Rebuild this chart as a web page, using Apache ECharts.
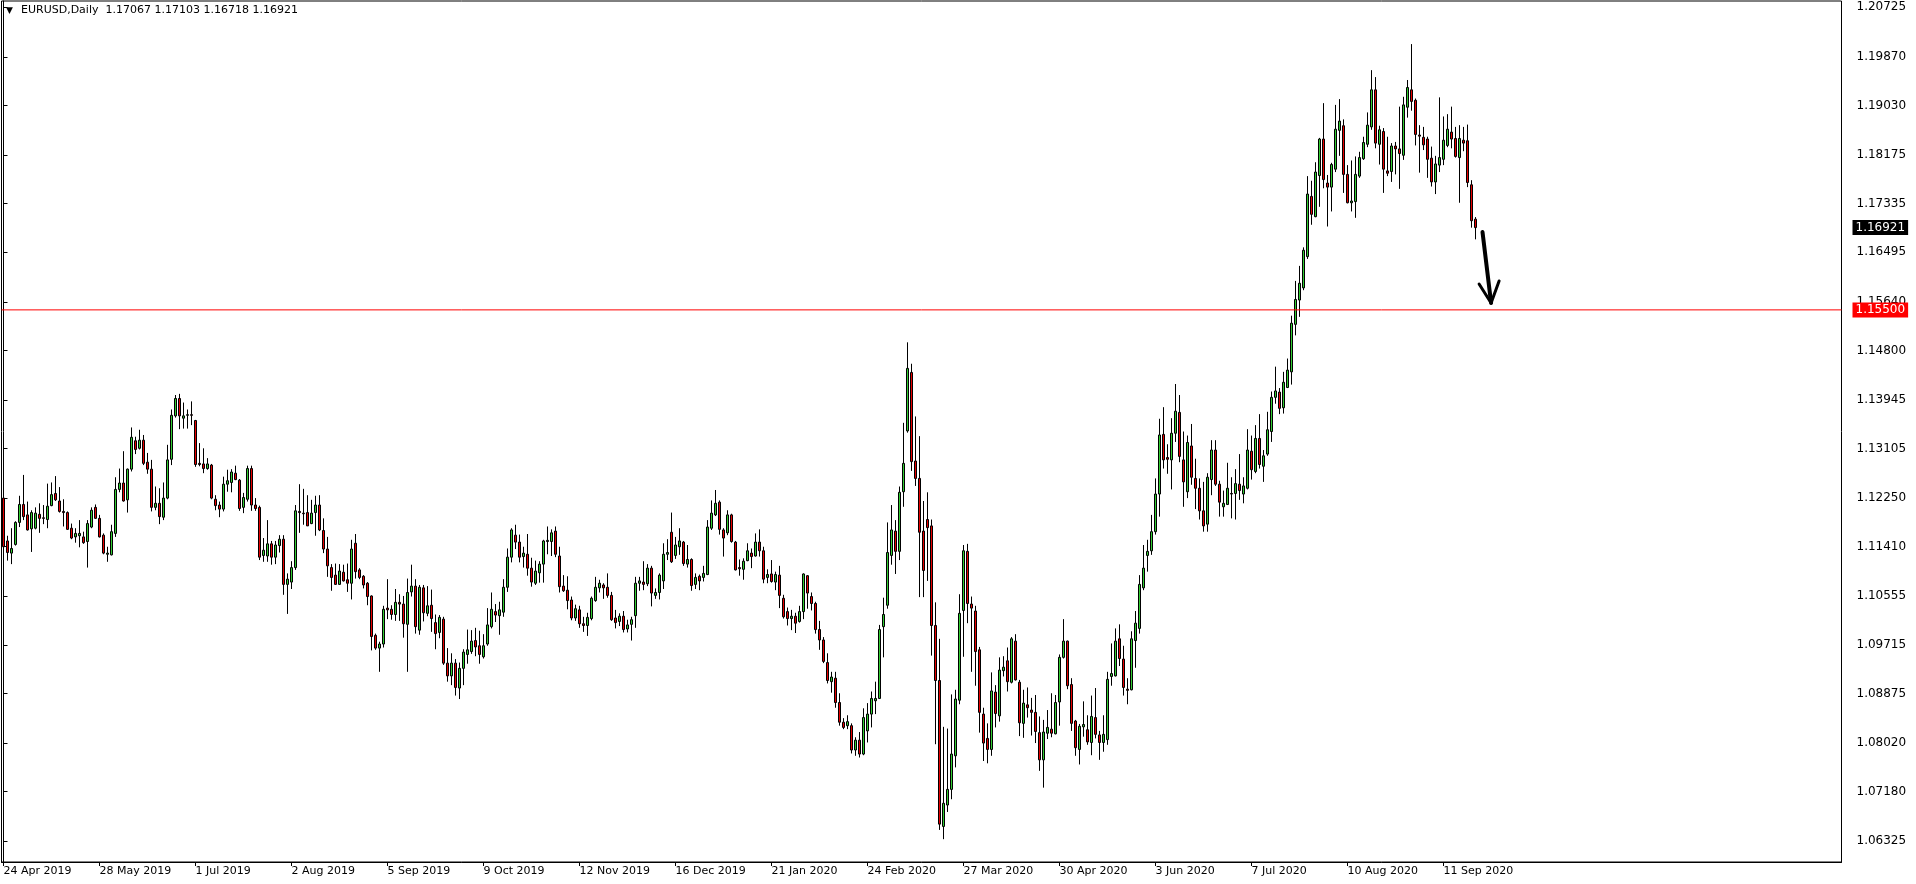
<!DOCTYPE html>
<html><head><meta charset="utf-8">
<script src="https://cdn.jsdelivr.net/npm/echarts@6/dist/echarts.min.js"></script>
<style>html,body{margin:0;padding:0;background:#fff;overflow:hidden}#c{width:1916px;height:884px}</style>
</head><body><div id="c"></div>
<script>
// ---- data (EURUSD daily) ----
const dateLabels=['24 Apr 2019','28 May 2019','1 Jul 2019','2 Aug 2019','5 Sep 2019','9 Oct 2019','12 Nov 2019','16 Dec 2019','21 Jan 2020','24 Feb 2020','27 Mar 2020','30 Apr 2020','3 Jun 2020','7 Jul 2020','10 Aug 2020','11 Sep 2020'];
const priceTicks=['1.20725','1.19870','1.19030','1.18175','1.17335','1.16495','1.15640','1.14800','1.13945','1.13105','1.12250','1.11410','1.10555','1.09715','1.08875','1.08020','1.07180','1.06325'];
const open=[
1.1225,1.1151,1.1130,1.1145,1.1183,1.1214,1.1196,1.1172,1.1173,1.1197,
1.1191,1.1188,1.1212,1.1233,1.1220,1.1202,1.1200,1.1173,1.1158,1.1160,
1.1158,1.1150,1.1175,1.1209,1.1190,1.1161,1.1128,1.1127,1.1164,1.1240,
1.1251,1.1222,1.1275,1.1324,1.1311,1.1325,1.1287,1.1275,1.1209,1.1216,
1.1192,1.1225,1.1292,1.1367,1.1397,1.1363,1.1368,1.1369,1.1359,1.1285,
1.1284,1.1276,1.1282,1.1223,1.1213,1.1206,1.1249,1.1252,1.1268,1.1256,
1.1209,1.1223,1.1276,1.1213,1.1209,1.1126,1.1125,1.1146,1.1123,1.1143,
1.1154,1.1076,1.1080,1.1105,1.1202,1.1199,1.1200,1.1181,1.1200,1.1213,
1.1169,1.1137,1.1105,1.1092,1.1076,1.1097,1.1084,1.1078,1.1147,1.1101,
1.1090,1.1078,1.1056,1.0988,1.0966,1.0973,1.1035,1.1033,1.1024,1.1045,
1.1042,1.1007,1.1063,1.1073,1.0997,1.1070,1.1026,1.1040,1.1010,1.0993,
1.1016,1.0940,1.0918,1.0940,1.0897,1.0931,1.0955,1.0960,1.0979,1.0970,
1.0951,1.0973,1.1003,1.1029,1.1022,1.1028,1.1071,1.1123,1.1161,1.1149,
1.1124,1.1128,1.1104,1.1078,1.1096,1.1111,1.1150,1.1150,1.1168,1.1125,
1.1073,1.1066,1.1049,1.1018,1.1032,1.1008,1.1005,1.1017,1.1048,1.1070,
1.1075,1.1071,1.1057,1.1018,1.1012,1.1021,1.0999,1.1007,1.1022,1.1078,
1.1080,1.1077,1.1104,1.1057,1.1062,1.1082,1.1128,1.1166,1.1126,1.1141,
1.1149,1.1111,1.1119,1.1076,1.1090,1.1088,1.1093,1.1173,1.1196,1.1218,
1.1170,1.1165,1.1196,1.1149,1.1105,1.1102,1.1117,1.1130,1.1125,1.1149,
1.1134,1.1088,1.1094,1.1080,1.1092,1.1052,1.1029,1.1017,1.1021,1.1012,
1.1029,1.1091,1.1055,1.1043,1.0998,1.0980,1.0941,1.0908,1.0914,1.0872,
1.0838,1.0832,1.0832,1.0790,1.0807,1.0783,1.0823,1.0852,1.0875,1.0879,
1.1003,1.1040,1.1126,1.1168,1.1133,1.1236,1.1341,1.1442,1.1289,1.1259,
1.1168,1.1188,1.1177,1.1005,1.0910,1.0658,1.0695,1.0722,1.0780,1.0876,
1.1031,1.1133,1.1042,1.1030,1.0963,1.0852,1.0810,1.0791,1.0890,1.0849,
1.0927,1.0944,1.0907,1.0978,1.0907,1.0836,1.0868,1.0859,1.0855,1.0820,
1.0773,1.0819,1.0826,1.0818,1.0873,1.0950,1.0978,1.0903,1.0840,1.0791,
1.0830,1.0825,1.0803,1.0846,1.0816,1.0803,1.0808,1.0917,1.0918,1.0982,
1.0947,1.0895,1.0894,1.0979,1.1000,1.1070,1.1126,1.1134,1.1167,1.1232,
1.1335,1.1295,1.1291,1.1337,1.1373,1.1291,1.1236,1.1315,1.1259,1.1242,
1.1203,1.1180,1.1257,1.1308,1.1249,1.1210,1.1214,1.1233,1.1233,1.1249,
1.1232,1.1242,1.1306,1.1271,1.1328,1.1280,1.1301,1.1340,1.1399,1.1408,
1.1381,1.1416,1.1443,1.1525,1.1567,1.1588,1.1642,1.1746,1.1711,1.1782,
1.1845,1.1769,1.1762,1.1793,1.1860,1.1868,1.1784,1.1735,1.1737,1.1781,
1.1811,1.1836,1.1866,1.1930,1.1836,1.1858,1.1790,1.1789,1.1833,1.1828,
1.1817,1.1900,1.1930,1.1912,1.1852,1.1848,1.1845,1.1812,1.1771,1.1800,
1.1810,1.1834,1.1857,1.1846,1.1813,1.1843,1.1842,1.1766,1.17067];
const high=[
1.1230,1.1160,1.1173,1.1185,1.1229,1.1265,1.1219,1.1204,1.1209,1.1216,
1.1213,1.1250,1.1252,1.1263,1.1244,1.1223,1.1202,1.1181,1.1173,1.1187,
1.1167,1.1187,1.1209,1.1214,1.1196,1.1164,1.1141,1.1179,1.1261,1.1276,
1.1306,1.1276,1.1347,1.1331,1.1343,1.1334,1.1303,1.1291,1.1245,1.1242,
1.1252,1.1317,1.1378,1.1403,1.1405,1.1390,1.1378,1.1392,1.1360,1.1320,
1.1311,1.1294,1.1284,1.1230,1.1219,1.1262,1.1274,1.1275,1.1281,1.1258,
1.1234,1.1281,1.1281,1.1225,1.1212,1.1156,1.1187,1.1151,1.1151,1.1161,
1.1161,1.1095,1.1116,1.1213,1.1249,1.1241,1.1230,1.1222,1.1229,1.1230,
1.1190,1.1158,1.1111,1.1112,1.1111,1.1110,1.1112,1.1153,1.1163,1.1104,
1.1092,1.1080,1.1057,1.0991,1.0977,1.1039,1.1085,1.1040,1.1068,1.1059,
1.1056,1.1086,1.1110,1.1085,1.1075,1.1075,1.1073,1.1067,1.1024,1.1023,
1.1020,1.0966,1.0957,1.0947,1.0941,1.0964,1.0998,1.0997,1.1001,1.0996,
1.0990,1.1035,1.1062,1.1042,1.1046,1.1085,1.1138,1.1173,1.1179,1.1162,
1.1141,1.1163,1.1122,1.1117,1.1116,1.1153,1.1176,1.1171,1.1176,1.1141,
1.1092,1.1090,1.1055,1.1041,1.1039,1.1020,1.1027,1.1055,1.1089,1.1084,
1.1078,1.1095,1.1063,1.1032,1.1026,1.1030,1.1015,1.1020,1.1089,1.1089,
1.1116,1.1111,1.1108,1.1069,1.1095,1.1147,1.1154,1.1200,1.1158,1.1173,
1.1151,1.1144,1.1121,1.1095,1.1093,1.1108,1.1187,1.1221,1.1239,1.1221,
1.1173,1.1204,1.1198,1.1151,1.1119,1.1121,1.1147,1.1138,1.1164,1.1171,
1.1141,1.1102,1.1118,1.1098,1.1108,1.1058,1.1036,1.1032,1.1027,1.1039,
1.1095,1.1092,1.1062,1.1046,1.1013,1.0985,1.0957,1.0925,1.0925,1.0888,
1.0845,1.0850,1.0836,1.0812,1.0821,1.0862,1.0871,1.0891,1.0908,1.1006,
1.1053,1.1183,1.1213,1.1187,1.1245,1.1355,1.1494,1.1457,1.1366,1.1332,
1.1220,1.1235,1.1188,1.1045,1.0982,1.0830,1.0827,1.0886,1.0894,1.1059,
1.1144,1.1146,1.1055,1.1039,1.0968,1.0863,1.0836,1.0924,1.0902,1.0950,
1.0952,1.0967,1.0985,1.0990,1.0911,1.0894,1.0898,1.0880,1.0885,1.0848,
1.0842,1.0859,1.0888,1.0885,1.0955,1.1016,1.0979,1.0914,1.0842,1.0835,
1.0874,1.0850,1.0884,1.0897,1.0823,1.0850,1.0925,1.0974,1.1000,1.1007,
1.0970,1.0914,1.0995,1.1030,1.1092,1.1144,1.1153,1.1196,1.1259,1.1362,
1.1382,1.1318,1.1363,1.1422,1.1403,1.1340,1.1333,1.1353,1.1293,1.1259,
1.1253,1.1268,1.1325,1.1325,1.1255,1.1238,1.1286,1.1261,1.1275,1.1301,
1.1261,1.1344,1.1333,1.1351,1.1370,1.1308,1.1374,1.1409,1.1452,1.1415,
1.1443,1.1466,1.1540,1.1600,1.1626,1.1658,1.1781,1.1773,1.1805,1.1847,
1.1907,1.1783,1.1804,1.1904,1.1914,1.1879,1.1800,1.1808,1.1815,1.1823,
1.1849,1.1891,1.1964,1.1952,1.1868,1.1864,1.1849,1.1838,1.1840,1.1901,
1.1918,1.1947,1.2009,1.1915,1.1869,1.1866,1.1849,1.1832,1.1816,1.1917,
1.1884,1.1888,1.1901,1.1866,1.1869,1.1866,1.1870,1.1774,1.17103];
const low=[
1.1140,1.1117,1.1111,1.1143,1.1175,1.1187,1.1169,1.1132,1.1171,1.1165,
1.1180,1.1173,1.1211,1.1220,1.1200,1.1176,1.1170,1.1154,1.1148,1.1140,
1.1146,1.1105,1.1173,1.1189,1.1157,1.1128,1.1115,1.1126,1.1158,1.1235,
1.1219,1.1200,1.1271,1.1301,1.1309,1.1282,1.1267,1.1202,1.1204,1.1180,
1.1187,1.1223,1.1282,1.1364,1.1344,1.1345,1.1345,1.1351,1.1279,1.1280,
1.1268,1.1274,1.1223,1.1204,1.1192,1.1202,1.1236,1.1235,1.1256,1.1203,
1.1199,1.1219,1.1203,1.1203,1.1118,1.1115,1.1115,1.1110,1.1111,1.1131,
1.1058,1.1025,1.1068,1.1101,1.1165,1.1179,1.1177,1.1180,1.1160,1.1168,
1.1130,1.1089,1.1065,1.1075,1.1075,1.1081,1.1063,1.1050,1.1086,1.1085,
1.1069,1.1040,1.0962,1.0963,1.0925,1.0967,1.1016,1.1015,1.1013,1.1013,
1.0984,1.0925,1.1055,1.0991,1.0989,1.1012,1.1021,1.0994,1.0964,1.0983,
1.0937,1.0908,1.0902,1.0884,1.0878,1.0902,1.0939,1.0956,1.0952,1.0939,
1.0948,1.0970,1.1000,1.1011,1.0989,1.1020,1.1063,1.1114,1.1137,1.1114,
1.1105,1.1091,1.1072,1.1075,1.1079,1.1079,1.1128,1.1125,1.1123,1.1062,
1.1063,1.1033,1.1014,1.1013,1.1001,1.0994,1.0987,1.1014,1.1046,1.1062,
1.1051,1.1053,1.1013,1.1000,1.1004,1.0993,1.0993,1.0979,1.1001,1.1065,
1.1066,1.1073,1.1038,1.1051,1.1050,1.1068,1.1118,1.1113,1.1120,1.1127,
1.1108,1.1105,1.1065,1.1068,1.1066,1.1081,1.1092,1.1170,1.1194,1.1162,
1.1124,1.1161,1.1148,1.1100,1.1091,1.1084,1.1116,1.1104,1.1124,1.1124,
1.1078,1.1078,1.1079,1.1066,1.1035,1.1017,1.1005,1.0997,1.0992,1.1010,
1.1016,1.1034,1.1031,1.0991,1.0963,1.0940,1.0905,1.0889,1.0863,1.0832,
1.0826,1.0826,1.0784,1.0780,1.0777,1.0781,1.0803,1.0829,1.0852,1.0878,
1.0950,1.1034,1.1110,1.1094,1.1118,1.1210,1.1338,1.1272,1.1246,1.1054,
1.1054,1.1082,1.0953,1.0800,1.0652,1.0636,1.0683,1.0705,1.0760,1.0869,
1.0951,1.1009,1.0925,1.0901,1.0820,1.0771,1.0767,1.0780,1.0829,1.0839,
1.0917,1.0891,1.0905,1.0910,1.0814,1.0811,1.0846,1.0815,1.0802,1.0754,
1.0725,1.0809,1.0812,1.0817,1.0832,1.0948,1.0895,1.0823,1.0780,1.0765,
1.0813,1.0799,1.0781,1.0810,1.0773,1.0787,1.0799,1.0901,1.0917,1.0935,
1.0884,1.0869,1.0893,1.0932,1.0991,1.1066,1.1098,1.1127,1.1162,1.1193,
1.1276,1.1267,1.1240,1.1322,1.1287,1.1210,1.1225,1.1248,1.1206,1.1188,
1.1167,1.1167,1.1230,1.1246,1.1193,1.1193,1.1213,1.1190,1.1188,1.1222,
1.1216,1.1240,1.1257,1.1268,1.1276,1.1253,1.1298,1.1322,1.1388,1.1370,
1.1371,1.1415,1.1421,1.1506,1.1538,1.1584,1.1638,1.1697,1.1710,1.1728,
1.1760,1.1694,1.1720,1.1788,1.1816,1.1752,1.1734,1.1720,1.1709,1.1778,
1.1809,1.1831,1.1861,1.1829,1.1801,1.1752,1.1781,1.1771,1.1784,1.1759,
1.1809,1.1882,1.1894,1.1834,1.1787,1.1826,1.1778,1.1763,1.1750,1.1788,
1.1800,1.1831,1.1829,1.1813,1.1735,1.1824,1.1762,1.1692,1.16718];
const close=[
1.1141,1.1131,1.1138,1.1183,1.1214,1.1193,1.1170,1.1200,1.1199,1.1190,
1.1190,1.1211,1.1231,1.1222,1.1202,1.1200,1.1171,1.1156,1.1164,1.1164,
1.1148,1.1181,1.1204,1.1190,1.1158,1.1130,1.1130,1.1167,1.1240,1.1251,
1.1220,1.1275,1.1330,1.1309,1.1325,1.1285,1.1275,1.1209,1.1216,1.1193,
1.1225,1.1291,1.1368,1.1397,1.1367,1.1367,1.1369,1.1368,1.1283,1.1283,
1.1276,1.1284,1.1225,1.1212,1.1206,1.1249,1.1255,1.1270,1.1257,1.1207,
1.1226,1.1276,1.1213,1.1207,1.1123,1.1135,1.1146,1.1123,1.1144,1.1154,
1.1076,1.1085,1.1105,1.1203,1.1200,1.1198,1.1177,1.1199,1.1213,1.1170,
1.1137,1.1108,1.1088,1.1076,1.1099,1.1082,1.1078,1.1137,1.1098,1.1088,
1.1075,1.1055,1.0986,1.0966,1.0973,1.1033,1.1032,1.1024,1.1045,1.1042,
1.1008,1.1062,1.1073,1.1003,1.1071,1.1027,1.1039,1.1017,1.0991,1.1019,
1.0940,1.0918,1.0940,1.0898,1.0931,1.0959,1.0963,1.0978,1.0968,1.0955,
1.0970,1.1006,1.1033,1.1023,1.1032,1.1071,1.1123,1.1170,1.1149,1.1123,
1.1130,1.1104,1.1080,1.1099,1.1111,1.1151,1.1152,1.1165,1.1128,1.1072,
1.1065,1.1048,1.1018,1.1034,1.1008,1.1005,1.1019,1.1052,1.1071,1.1078,
1.1070,1.1057,1.1015,1.1010,1.1021,1.0998,1.1006,1.1015,1.1078,1.1082,
1.1076,1.1104,1.1061,1.1062,1.1092,1.1128,1.1131,1.1115,1.1144,1.1151,
1.1112,1.1119,1.1074,1.1088,1.1082,1.1095,1.1175,1.1199,1.1216,1.1171,
1.1156,1.1196,1.1150,1.1101,1.1103,1.1116,1.1134,1.1124,1.1149,1.1134,
1.1085,1.1093,1.1081,1.1093,1.1057,1.1020,1.1017,1.1021,1.1009,1.1029,
1.1094,1.1061,1.1043,1.0998,1.0980,1.0943,1.0910,1.0916,1.0872,1.0838,
1.0829,1.0839,1.0790,1.0807,1.0783,1.0846,1.0852,1.0879,1.0879,1.0998,
1.1024,1.1131,1.1170,1.1133,1.1235,1.1285,1.1449,1.1288,1.1259,1.1166,
1.1100,1.1174,1.1005,1.0910,1.0662,1.0698,1.0722,1.0783,1.0878,1.1026,
1.1134,1.1043,1.1035,1.0960,1.0855,1.0802,1.0791,1.0892,1.0853,1.0928,
1.0933,1.0908,1.0982,1.0911,1.0837,1.0871,1.0863,1.0855,1.0822,1.0773,
1.0821,1.0829,1.0819,1.0872,1.0950,1.0978,1.0901,1.0836,1.0794,1.0831,
1.0834,1.0804,1.0848,1.0817,1.0803,1.0817,1.0912,1.0922,1.0978,1.0948,
1.0898,1.0893,1.0982,1.1009,1.1076,1.1104,1.1133,1.1167,1.1232,1.1334,
1.1291,1.1292,1.1337,1.1375,1.1297,1.1253,1.1321,1.1261,1.1242,1.1203,
1.1177,1.1261,1.1308,1.1249,1.1218,1.1216,1.1242,1.1232,1.1250,1.1238,
1.1246,1.1308,1.1274,1.1328,1.1283,1.1298,1.1343,1.1399,1.1410,1.1380,
1.1425,1.1446,1.1527,1.1568,1.1596,1.1653,1.1750,1.1715,1.1788,1.1845,
1.1775,1.1762,1.1801,1.1862,1.1876,1.1784,1.1735,1.1738,1.1784,1.1813,
1.1839,1.1869,1.1930,1.1838,1.1861,1.1793,1.1786,1.1833,1.1828,1.1820,
1.1904,1.1934,1.1910,1.1853,1.1850,1.1835,1.1810,1.1771,1.1802,1.1813,
1.1843,1.1862,1.1845,1.1815,1.1846,1.1838,1.1770,1.1704,1.16921];
const supportLevel=1.15500;
// hand-drawn arrow annotation: [bar position, price]
const arrowShaft=[[369.75,1.16845],[371.9,1.15619]];
const arrowHead=[[368.9,1.15947],[371.9,1.15619],[373.9,1.15999]];
const headerSymbol='EURUSD,Daily';
const headerOHLC=[open[open.length-1],high[high.length-1],low[low.length-1],close[close.length-1]];

// ---- chart ----
const SLOTS=460;
const slotCats=Array.from({length:SLOTS},(_,i)=>String(i));
const candles=open.map((o,i)=>[o,close[i],low[i],high[i]]);
const FONT='"DejaVu Sans", Tahoma, sans-serif';
const isLabelIdx=(idx)=> idx%24===0 && idx/24<dateLabels.length;
const lastClose=close[close.length-1];
const levelLine=(price,lineStyle,bg)=>({
  type:'line',xAxisIndex:1,data:[[-0.5,price],[SLOTS-0.5,price]],symbol:'none',silent:true,clip:false,z:3,
  lineStyle:lineStyle,
  endLabel:{show:true,formatter:()=>price.toFixed(5),backgroundColor:bg,color:'#fff',fontFamily:FONT,fontSize:12,padding:[2,3,1,3],distance:11,align:'left',verticalAlign:'middle'}
});
const chart=echarts.init(document.getElementById('c'),null,{renderer:'canvas'});
chart.setOption({
  animation:false,
  backgroundColor:'#ffffff',
  grid:{left:1.5,top:1,width:1840,height:861,show:true,borderColor:'#000',borderWidth:1,backgroundColor:'#fff',containLabel:false},
  xAxis:[{
    type:'category',data:slotCats,boundaryGap:true,
    axisLine:{show:true,lineStyle:{color:'#000',width:1}},
    axisTick:{show:true,alignWithLabel:true,interval:(i)=>isLabelIdx(i),length:4,lineStyle:{color:'#000'}},
    axisLabel:{show:true,interval:(i)=>isLabelIdx(i),formatter:(v,i)=>dateLabels[Math.round(i/24)]||'',align:'left',color:'#000',fontFamily:FONT,fontSize:11,margin:4,hideOverlap:false},
    splitLine:{show:false}
  },{
    type:'value',min:-0.5,max:SLOTS-0.5,show:false
  }],
  yAxis:{
    type:'value',position:'right',min:1.05966,max:1.20834,scale:true,
    axisLine:{show:true,lineStyle:{color:'#000',width:1}},
    axisTick:{show:true,customValues:priceTicks.map(Number),length:4,lineStyle:{color:'#000'}},
    axisLabel:{show:true,customValues:priceTicks.map(Number),formatter:(v)=>Number(v).toFixed(5),color:'#000',fontFamily:FONT,fontSize:12,margin:15},
    splitLine:{show:false}
  },
  series:[{
    type:'candlestick',data:candles,barWidth:2,
    itemStyle:{color:'#32cd32',color0:'#e60000',borderColor:'#000',borderColor0:'#000',borderColorDoji:'#000',borderWidth:1}
  },
  levelLine(supportLevel,{color:'#ff0000',width:1,type:'solid'},'#ff0000'),
  levelLine(lastClose,{color:'#000',width:0,opacity:0},'#000'),
  {
    type:'line',xAxisIndex:1,data:arrowShaft,symbol:'none',lineStyle:{color:'#000',width:4,cap:'round'},silent:true
  },{
    type:'line',xAxisIndex:1,data:arrowHead,symbol:'none',lineStyle:{color:'#000',width:3,cap:'round',join:'round'},silent:true
  }],
  graphic:[
    {type:'text',left:6,top:6,style:{text:'▼',font:'9px '+FONT,fill:'#000'}},
    {type:'text',left:21,top:5,style:{text:headerSymbol+'  '+headerOHLC.map(v=>v.toFixed(5)).join(' '),font:'11px '+FONT,fill:'#000'}}
  ]
});
</script></body></html>
